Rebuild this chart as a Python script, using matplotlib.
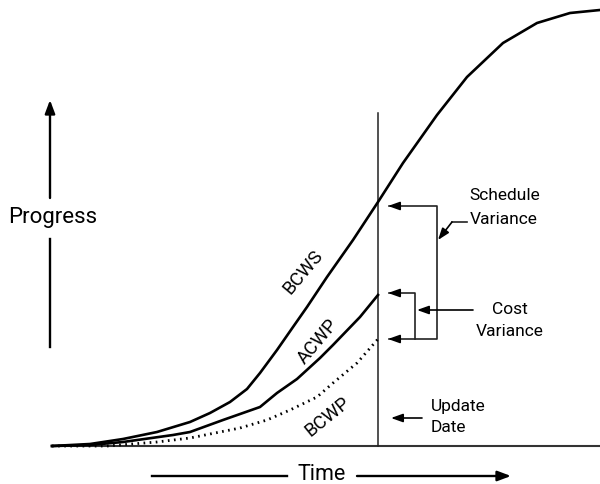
import matplotlib.pyplot as plt

plt.rcParams['font.family'] = ['Roboto', 'DejaVu Sans']

# time (x) and progress (y), baseline at progress 0
bcws_t = [52, 90, 123, 157, 190, 210, 230, 247, 260, 277, 293, 307, 327, 353, 378,
          403, 437, 467, 503, 537, 570, 600]
bcws_p = [0, 2, 7, 14, 24, 33, 44, 57, 73, 96, 119, 139, 169, 206, 244,
          283, 331, 369, 403, 423, 433, 436]

acwp_t = [52, 90, 123, 173, 190, 223, 260, 277, 297, 320, 333, 360, 378]
acwp_p = [0, 1, 4, 11, 14, 26, 39, 53, 67, 88, 101, 129, 151]

bcwp_t = [52, 107, 157, 190, 240, 267, 290, 317, 333, 357, 378]
bcwp_p = [0, 0, 4, 8, 18, 26, 36, 49, 63, 83, 107]

update_t = 378
update_top = 333
t_start, t_end = 52, 600

fig = plt.figure(figsize=(6, 4.84), dpi=100)
ax = fig.add_axes([0, 0, 1, 1])
ax.set_xlim(0, 600)
ax.set_ylim(-38, 446)
ax.axis('off')

# baseline and update date line
ax.plot([t_start, t_end], [0, 0], color='#333333', lw=1.5, solid_capstyle='butt')
ax.plot([update_t, update_t], [0, update_top], color='#222222', lw=1.1)

# curves
ax.plot(bcws_t, bcws_p, color='black', lw=1.9)
ax.plot(acwp_t, acwp_p, color='black', lw=1.9)
ax.plot(bcwp_t, bcwp_p, color='black', lw=2.0, linestyle=(0, (0.6, 1.6)))

# curve labels
ax.text(303, 174, 'BCWS', rotation=50, ha='center', va='center', fontsize=13.5)
ax.text(318, 104, 'ACWP', rotation=50, ha='center', va='center', fontsize=13.5)
ax.text(328, 29, 'BCWP', rotation=39, ha='center', va='center', fontsize=13.5)

arr = dict(arrowstyle='-|>,head_length=0.7,head_width=0.25', color='black', lw=1.2,
           shrinkA=0, shrinkB=0)

# schedule variance bracket
ax.plot([389, 437, 437, 389], [240, 240, 107, 107], color='#222222', lw=1.2)
ax.annotate('', xy=(388, 240), xytext=(400, 240), arrowprops=arr)
ax.annotate('', xy=(388, 107), xytext=(400, 107), arrowprops=arr)
# cost variance bracket
ax.plot([389, 415, 415], [153, 153, 107], color='#222222', lw=1.2)
ax.annotate('', xy=(388, 153), xytext=(400, 153), arrowprops=arr)

# pointer arrows to the brackets
ax.plot([467, 452], [224, 224], color='#222222', lw=1.2)
ax.annotate('', xy=(438, 206), xytext=(452, 224), arrowprops=arr)
ax.annotate('', xy=(417, 136), xytext=(473, 136), arrowprops=arr)
ax.annotate('', xy=(391, 28), xytext=(422, 28), arrowprops=arr)

ax.text(469, 250, 'Schedule', ha='left', va='center', fontsize=12.5)
ax.text(470, 227, 'Variance', ha='left', va='center', fontsize=12.5)
ax.text(510, 136, 'Cost', ha='center', va='center', fontsize=12.5)
ax.text(510, 114, 'Variance', ha='center', va='center', fontsize=12.5)
ax.text(431, 39, 'Update', ha='left', va='center', fontsize=12.5)
ax.text(431, 18, 'Date', ha='left', va='center', fontsize=12.5)

# axis arrows
ax.text(53, 229, 'Progress', ha='center', va='center', fontsize=16)
ax.plot([50, 50], [99, 207], color='black', lw=1.7)
ax.annotate('', xy=(50, 346), xytext=(50, 248), arrowprops=dict(
    arrowstyle='-|>,head_length=0.8,head_width=0.3', color='black', lw=1.7,
    shrinkA=0, shrinkB=0))

ax.text(322, -29, 'Time', ha='center', va='center', fontsize=15.5)
ax.plot([152, 287], [-30, -30], color='black', lw=1.7)
ax.annotate('', xy=(511, -30), xytext=(357, -30), arrowprops=dict(
    arrowstyle='-|>,head_length=0.8,head_width=0.3', color='black', lw=1.7,
    shrinkA=0, shrinkB=0))

fig.savefig('out.png', dpi=100)
